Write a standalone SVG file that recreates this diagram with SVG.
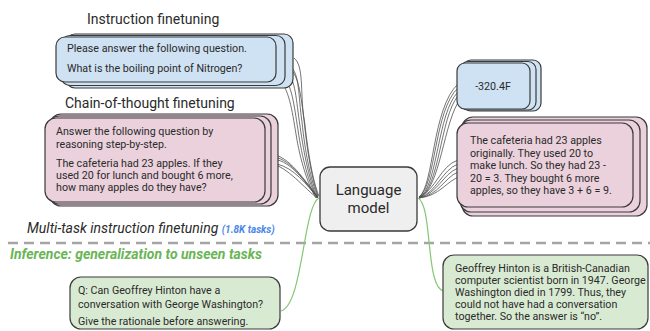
<svg xmlns="http://www.w3.org/2000/svg" width="650" height="331" viewBox="0 0 650 331">
  <style>
    .bg { fill: #ffffff; }
    .card { stroke: #3a3a3a; stroke-width: 1.2; }
    .blue { fill: #cfe2f3; }
    .pink { fill: #ead1dc; }
    .green { fill: #d9ead3; }
    .lm { fill: #efefef; stroke: #3a3a3a; stroke-width: 1.3; }
    .t { font-family: Roboto, "Liberation Sans", sans-serif; fill: #2a2a2a; }
    .body { font-size: 10.7px; }
    .head { font-size: 14px; }
    .wire { fill: none; stroke: #505050; stroke-width: 0.8; }
    .gwire { fill: none; stroke: #86c675; stroke-width: 1.2; }
    .split { stroke: #a4a4a4; stroke-width: 2.3; stroke-dasharray: 10 6; }
  </style>
  <rect class="bg" width="650" height="331"/>

  <!-- section titles -->
  <text class="t head" x="87" y="24">Instruction finetuning</text>
  <text class="t head" x="65" y="108">Chain-of-thought finetuning</text>
  <text class="t head" x="27" y="233" font-style="italic">Multi-task instruction finetuning <tspan font-size="10px" font-weight="bold" fill="#4a86e8">(1.8K tasks)</tspan></text>
  <line class="split" x1="8" y1="243" x2="650" y2="243"/>
  <text class="t head" x="10" y="259" font-style="italic" font-weight="bold" style="fill:#6ab556">Inference: generalization to unseen tasks</text>

  <!-- connectors -->
  <g id="connectors">
    <path class="wire" d="M294 58 C304 66 300 90 304 120 C307 150 312 180 318 196"/>
    <path class="wire" d="M290 66 C300 74 298 95 302 122 C305 152 311 182 318 197"/>
    <path class="wire" d="M286 70 C296 80 296 100 300 126 C304 155 310 183 317 197"/>
    <path class="wire" d="M282 75 C292 84 294 105 298 130 C302 158 309 184 317 198"/>
    <path class="wire" d="M278 78 C289 88 292 110 296 134 C300 160 308 185 316 198"/>
    <path class="wire" d="M293 72 C300 82 301 100 305 125 C308 153 313 182 319 196"/>

    <path class="wire" d="M266 153 C288 154 300 175 318 197"/>
    <path class="wire" d="M270 156 C290 158 302 178 318 197"/>
    <path class="wire" d="M274 159 C292 162 304 181 318 198"/>
    <path class="wire" d="M266 162 C286 165 300 184 317 198"/>
    <path class="wire" d="M277 164 C294 168 306 184 318 198"/>

    <path class="wire" d="M419 197 C434 186 432 108 458 84"/>
    <path class="wire" d="M419 197 C436 186 434 110 458 88"/>
    <path class="wire" d="M419 198 C438 187 437 113 458 92"/>
    <path class="wire" d="M419 198 C440 188 440 117 458 96"/>
    <path class="wire" d="M419 198 C441 189 443 121 461 98"/>

    <path class="wire" d="M419 197 C436 190 440 166 458 160"/>
    <path class="wire" d="M419 198 C437 192 442 170 458 164"/>
    <path class="wire" d="M419 198 C438 193 443 174 458 168"/>
    <path class="wire" d="M419 198 C439 195 444 178 458 172"/>
    <path class="wire" d="M419 198 C440 196 446 181 461 176"/>

    <path class="gwire" d="M319 198 C303 206 303 305 281 311"/>
    <path class="gwire" d="M418 198 C433 206 425 288 444 291"/>
  </g>

  <!-- instruction example stack -->
  <g id="instr-input">
    <rect class="card blue" x="66" y="34" width="227" height="54" rx="9"/>
    <rect class="card blue" x="61" y="35.5" width="224" height="50" rx="9"/>
    <rect class="card blue" x="56" y="37" width="220" height="45" rx="9"/>
    <text class="t body" x="67" y="52">Please answer the following question.</text>
    <text class="t body" x="67" y="72">What is the boiling point of Nitrogen?</text>
  </g>

  <!-- chain-of-thought example stack -->
  <g id="cot-input">
    <rect class="card pink" x="50" y="114" width="228" height="92" rx="11"/>
    <rect class="card pink" x="48" y="116" width="223" height="88" rx="11"/>
    <rect class="card pink" x="45" y="118" width="220" height="84" rx="11"/>
    <text class="t body" x="56" y="135">Answer the following question by</text>
    <text class="t body" x="56" y="148">reasoning step-by-step.</text>
    <text class="t body" x="56" y="167">The cafeteria had 23 apples. If they</text>
    <text class="t body" x="56" y="179">used 20 for lunch and bought 6 more,</text>
    <text class="t body" x="56" y="191">how many apples do they have?</text>
  </g>

  <!-- model -->
  <g id="language-model">
    <rect class="lm" x="320" y="167" width="97" height="64" rx="10"/>
    <text class="t" x="368.5" y="195" font-size="15" text-anchor="middle">Language</text>
    <text class="t" x="368.5" y="213" font-size="15" text-anchor="middle">model</text>
  </g>

  <!-- direct answer stack -->
  <g id="instr-output">
    <rect class="card blue" x="463" y="60" width="78" height="51" rx="8"/>
    <rect class="card blue" x="460" y="61.5" width="76" height="48.5" rx="8"/>
    <rect class="card blue" x="457" y="63" width="73" height="46" rx="8"/>
    <text class="t body" x="493" y="90" text-anchor="middle">-320.4F</text>
  </g>

  <!-- rationale answer stack -->
  <g id="cot-output">
    <rect class="card pink" x="462" y="117" width="185" height="99" rx="11"/>
    <rect class="card pink" x="460" y="120" width="180" height="92" rx="11"/>
    <rect class="card pink" x="457" y="123" width="176" height="84" rx="11"/>
    <text class="t body" x="470" y="144">The cafeteria had 23 apples</text>
    <text class="t body" x="470" y="156.5">originally. They used 20 to</text>
    <text class="t body" x="470" y="169">make lunch. So they had 23 -</text>
    <text class="t body" x="470" y="181.5">20 = 3. They bought 6 more</text>
    <text class="t body" x="470" y="194">apples, so they have 3 + 6 = 9.</text>
  </g>

  <!-- unseen task question -->
  <g id="infer-input">
    <rect class="card green" x="70" y="277" width="210" height="52" rx="11"/>
    <text class="t body" x="78" y="294">Q: Can Geoffrey Hinton have a</text>
    <text class="t body" x="78" y="308">conversation with George Washington?</text>
    <text class="t body" x="78" y="325">Give the rationale before answering.</text>
  </g>

  <!-- unseen task answer -->
  <g id="infer-output">
    <rect class="card green" x="443" y="255" width="205" height="74" rx="11"/>
    <text class="t body" x="455" y="272">Geoffrey Hinton is a British-Canadian</text>
    <text class="t body" x="455" y="284">computer scientist born in 1947. George</text>
    <text class="t body" x="455" y="296">Washington died in 1799. Thus, they</text>
    <text class="t body" x="455" y="308">could not have had a conversation</text>
    <text class="t body" x="455" y="320">together. So the answer is “no”.</text>
  </g>
</svg>
